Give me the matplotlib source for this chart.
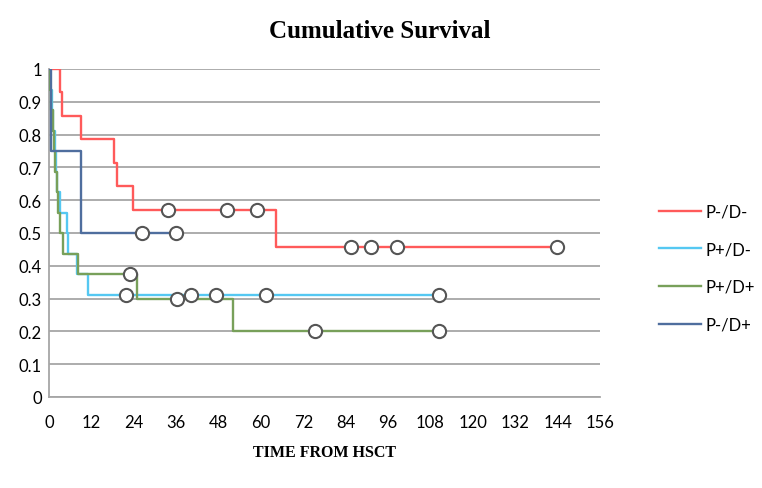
import matplotlib
matplotlib.use("Agg")
import matplotlib.pyplot as plt
import numpy as np

# Kaplan-Meier step data (time in months, survival)
series_names = ["P-/D-", "P+/D-", "P+/D+", "P-/D+"]

pmdm_t = [0, 3.1, 3.7, 9.1, 18.4, 19.3, 23.7, 64.2, 143.9]
pmdm_s = [1, 0.929, 0.857, 0.786, 0.714, 0.643, 0.571, 0.457, 0.457]
pmdm_cens_t = [33.6, 50.5, 58.9, 85.6, 91.1, 98.6, 143.9]
pmdm_cens_s = [0.571, 0.571, 0.571, 0.457, 0.457, 0.457, 0.457]

ppdm_t = [0, 0.4, 0.8, 1.2, 1.6, 2.0, 2.4, 3.0, 5.0, 5.5, 7.8, 11.0, 110.4]
ppdm_s = [1, 0.9375, 0.875, 0.8125, 0.75, 0.6875, 0.625, 0.5625, 0.5, 0.4375, 0.375, 0.3125, 0.3125]
ppdm_cens_t = [21.7, 40.2, 47.2, 61.4, 110.4]
ppdm_cens_s = [0.3125, 0.3125, 0.3125, 0.3125, 0.3125]

ppdp_t = [0, 0.2, 0.6, 1.0, 1.4, 1.8, 2.2, 2.6, 3.0, 3.5, 4.0, 8.1, 24.8, 52.1, 110.3]
ppdp_s = [1, 0.9375, 0.875, 0.8125, 0.75, 0.6875, 0.625, 0.5625, 0.5, 0.5, 0.4375, 0.375, 0.3, 0.2, 0.2]
ppdp_cens_t = [22.9, 36.3, 75.2, 110.3]
ppdp_cens_s = [0.375, 0.3, 0.2, 0.2]

pmdp_t = [0, 0.6, 9.2, 35.9]
pmdp_s = [1, 0.75, 0.5, 0.5]
pmdp_cens_t = [26.4, 35.9]
pmdp_cens_s = [0.5, 0.5]

colors = ["#FF5A5A", "#55C8F2", "#78A05A", "#4F6E9E"]

x_ticks = list(range(0, 157, 12))
y_ticks = [0, 0.1, 0.2, 0.3, 0.4, 0.5, 0.6, 0.7, 0.8, 0.9, 1]
y_labels = ["0", "0.1", "0.2", "0.3", "0.4", "0.5", "0.6", "0.7", "0.8", "0.9", "1"]

fig = plt.figure(figsize=(7.62, 4.89), dpi=100)
ax = fig.add_axes([49/762, 1-398/489, (600-49)/762, (398-70)/489])

data = [(pmdm_t, pmdm_s, pmdm_cens_t, pmdm_cens_s),
        (ppdm_t, ppdm_s, ppdm_cens_t, ppdm_cens_s),
        (ppdp_t, ppdp_s, ppdp_cens_t, ppdp_cens_s),
        (pmdp_t, pmdp_s, pmdp_cens_t, pmdp_cens_s)]

for (t, s, ct, cs), name, c in zip(data, series_names, colors):
    ax.step(t, s, where="post", color=c, lw=1.7, label=name, zorder=3)
for (t, s, ct, cs), c in zip(data, colors):
    ax.plot(ct, cs, "o", ms=9.5, mfc="white", mec="#555555", mew=1.5, ls="none", zorder=4)

ax.set_xlim(0, 156)
ax.set_ylim(0, 1)
ax.set_xticks(x_ticks)
ax.set_xticklabels([str(v) for v in x_ticks], fontfamily="Lato", fontsize=12)
ax.set_yticks(y_ticks)
ax.set_yticklabels(y_labels, fontfamily="Lato", fontsize=12)
ax.tick_params(length=0)
ax.tick_params(axis="y", pad=5)
ax.tick_params(axis="x", pad=12)
ax.yaxis.grid(True, color="#A6A6A6", lw=1.3, zorder=0)
ax.set_axisbelow(True)
for sp in ["top", "right"]:
    ax.spines[sp].set_visible(False)
for sp in ["left", "bottom"]:
    ax.spines[sp].set_color("#A6A6A6")
    ax.spines[sp].set_linewidth(1.3)

ax.set_xlabel("TIME FROM HSCT", fontfamily="Liberation Serif", fontweight="bold",
              fontsize=11.5, labelpad=10)
fig.text(380/762, 1-32/489, "Cumulative Survival", fontfamily="Liberation Serif",
         fontweight="bold", fontsize=18, ha="center", va="center")

leg = ax.legend(loc="center left", bbox_to_anchor=(1.08, 0.393), frameon=False,
                prop={"family": "Lato", "size": 12}, handlelength=2.5,
                labelspacing=1.3, handletextpad=0.3)

fig.savefig("out.png", dpi=100)
